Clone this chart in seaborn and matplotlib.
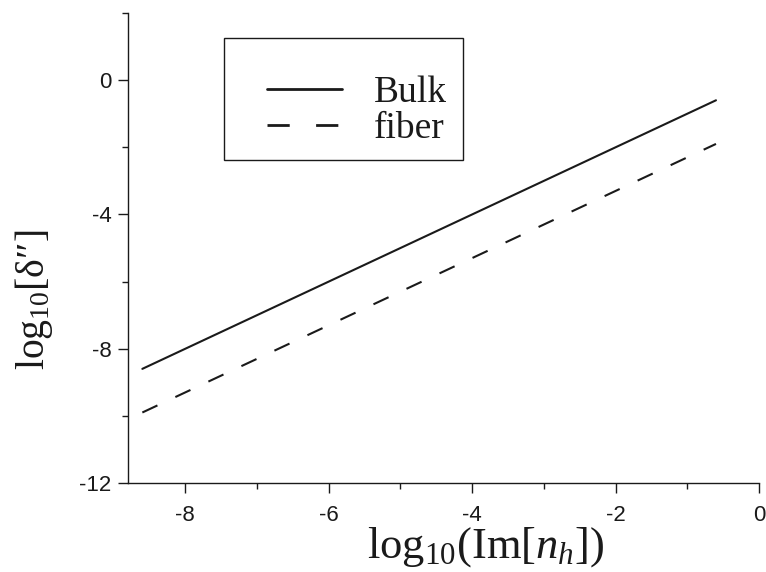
import matplotlib
matplotlib.use("Agg")
import matplotlib.pyplot as plt
from matplotlib.patches import Rectangle
from matplotlib.ticker import MultipleLocator
import numpy as np
import pandas as pd
import seaborn as sns

# log10(Im[n_h]) range and the two attenuation curves log10[δ″]
log_im_nh = [-8.6, -0.6]
bulk = [-8.6, -0.6]
fiber = [-9.9, -1.9]
series_names = ["Bulk", "fiber"]

x_ticks = [-8, -6, -4, -2, 0]
y_ticks = [-12, -8, -4, 0]

df = pd.DataFrame({
    "x": log_im_nh + log_im_nh,
    "y": bulk + fiber,
    "medium": [series_names[0]] * len(bulk) + [series_names[1]] * len(fiber),
})

sns.set_style("ticks")
plt.rcParams["font.family"] = ["Liberation Sans", "DejaVu Sans"]
plt.rcParams["mathtext.fontset"] = "custom"
plt.rcParams["mathtext.rm"] = "Liberation Serif"
plt.rcParams["mathtext.it"] = "Liberation Serif:italic"
plt.rcParams["mathtext.bf"] = "Liberation Serif:bold"

ink = "#1a1a1a"

fig = plt.figure(figsize=(7.66, 5.72), dpi=100)
ax = fig.add_axes([128 / 766, 89 / 572, 631 / 766, 470 / 572])

sns.lineplot(
    data=df, x="x", y="y", style="medium", hue="medium",
    palette={"Bulk": ink, "fiber": ink},
    dashes={"Bulk": "", "fiber": (8, 9.5)},
    linewidth=1.5, ax=ax, legend=True,
)

ax.set_xlim(-8.8, 0)
ax.set_ylim(-12, 2)
ax.set_xticks(x_ticks)
ax.set_yticks(y_ticks)
ax.set_xticklabels([str(t) for t in x_ticks])
ax.set_yticklabels([str(t) for t in y_ticks])
ax.xaxis.set_minor_locator(MultipleLocator(1))
ax.yaxis.set_minor_locator(MultipleLocator(2))

for side in ["top", "right"]:
    ax.spines[side].set_visible(False)
for side in ["left", "bottom"]:
    ax.spines[side].set_linewidth(1.0)
    ax.spines[side].set_color(ink)

ax.tick_params(which="major", direction="out", length=7, width=1.0,
               colors=ink, labelsize=16, labelcolor=ink)
ax.tick_params(axis="x", which="major", pad=9)
ax.tick_params(axis="y", which="major", pad=5)
ax.tick_params(which="minor", direction="out", length=4.3, width=1.0,
               colors=ink)

ax.set_xlabel(r"$\mathrm{log}_{10}(\mathrm{Im}[n_h])$", fontsize=32,
              color=ink)
ax.xaxis.set_label_coords(0.566, -0.09, transform=ax.transAxes)
ax.xaxis.label.set_va("top")
ax.set_ylabel(r"$\mathrm{log}_{10}[\mathrm{δ″}]$", fontsize=28.5,
              color=ink)
ax.yaxis.set_label_coords(-0.116, 0.39, transform=ax.transAxes)

# Legend entries without their own frame; a plain box is drawn around them
handles, labels = ax.get_legend_handles_labels()
leg = ax.legend(
    handles, labels, loc="center left",
    bbox_to_anchor=((267 - 128) / 631, (483 - 111) / 470),
    frameon=False, borderpad=0, borderaxespad=0,
    handlelength=2.0, handletextpad=0.85, labelspacing=0.05,
    prop={"family": "Liberation Serif", "size": 27},
)
for t in leg.get_texts():
    t.set_color(ink)
for h in leg.get_lines():
    h.set_linewidth(2.0)

ax.add_patch(Rectangle(
    ((224 - 128) / 631, (483 - 160) / 470), (463 - 224) / 631, 122 / 470,
    transform=ax.transAxes, fill=False, edgecolor=ink, linewidth=1.0,
    zorder=5,
))

fig.savefig("out.png", dpi=100)
